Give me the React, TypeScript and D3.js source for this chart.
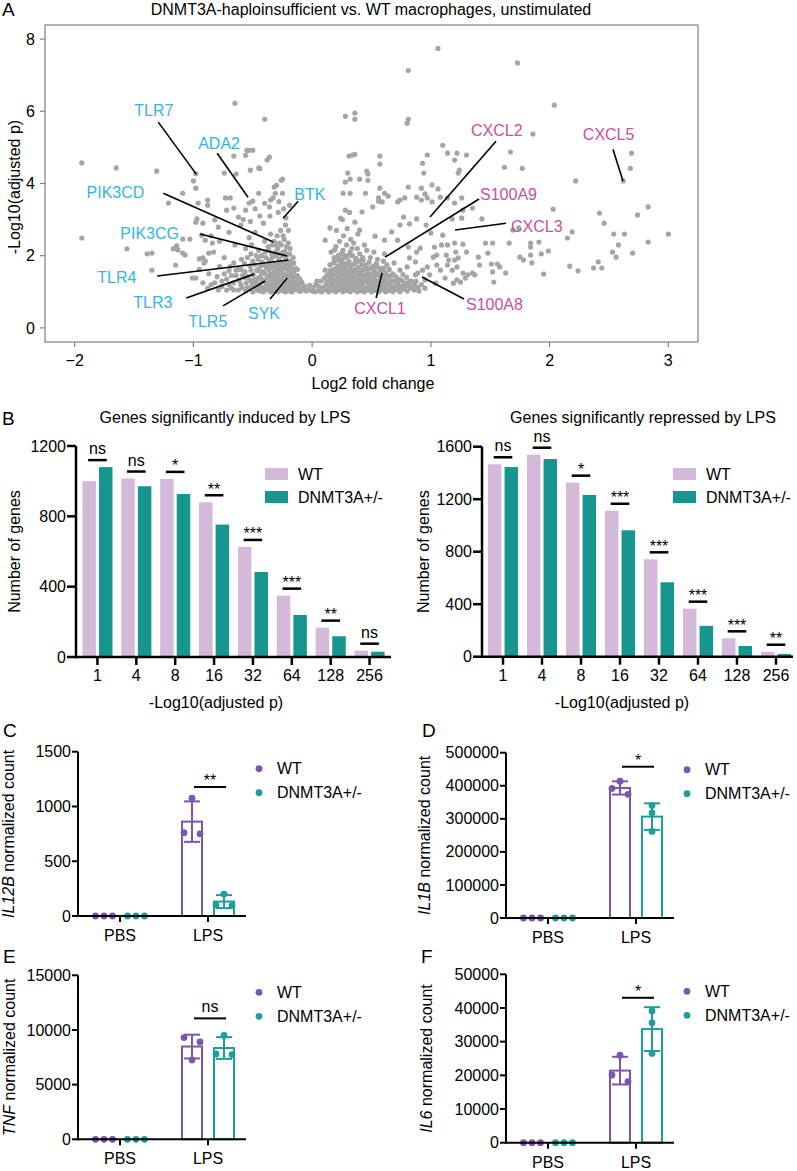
import React from 'react';
import * as d3 from 'd3';

const FONT = '"Liberation Sans", Arial, Helvetica, sans-serif';
const WT_BAR = '#d5b9da';
const DN_BAR = '#17958f';
const WT_DOT = '#7c55b1';
const DN_DOT = '#1c9f99';
const DOWN_LABEL = '#35b4e6';
const UP_LABEL = '#c64f9f';
const DOT_GRAY = '#a5a5a5';

// ---- Panel A: volcano (log2 fold change, -log10 adjusted p) ----
const volcanoSparse: [number, number][] = [
  [-1.94, 4.57], [-1.65, 4.43], [-1.31, 4.34], [-0.98, 4.27], [-0.65, 6.22], [-0.4, 5.78], [-0.66, 4.76],
  [-0.56, 4.78], [-0.55, 4.92], [-0.53, 4.92], [-0.5, 4.92], [-0.52, 4.37], [-0.44, 4.41], [-0.38, 4.65],
  [-0.36, 4.73], [-0.74, 4.29], [-0.25, 4.12], [0.28, 5.86], [0.36, 5.95], [0.36, 5.78], [0.31, 4.76],
  [0.34, 4.79], [0.36, 4.81], [0.3, 4.29], [0.47, 4.26], [0.57, 4.76], [0.57, 4.54], [1.06, 7.74],
  [0.81, 7.13], [1.73, 7.34], [2.04, 6.17], [0.81, 5.78], [0.8, 5.67], [1.86, 5.37], [1.1, 5.06],
  [0.97, 4.79], [1.14, 4.84], [1.22, 4.84], [1.3, 4.79], [1.2, 4.65], [0.93, 4.56], [1.24, 4.37],
  [1.23, 4.29], [0.94, 4.29], [1.67, 4.87], [1.62, 4.45], [1.77, 4.42], [2.69, 4.84], [2.68, 4.42],
  [2.22, 4.07], [2.62, 4.07], [2.83, 3.35], [2.74, 3.13], [2.42, 3.18], [2.46, 2.9], [2.03, 3.29],
  [3.0, 2.6], [2.83, 2.38], [2.54, 2.6], [2.63, 2.6], [2.58, 2.3], [2.53, 2.1], [2.56, 1.96], [2.7, 2.07],
  [2.37, 1.66], [2.41, 1.83], [2.44, 1.66], [2.17, 1.71], [2.24, 1.58], [2.19, 2.66], [2.15, 2.49],
  [1.91, 2.38], [1.84, 2.35], [1.84, 2.24], [1.99, 2.13], [1.93, 2.05], [1.75, 1.96], [1.78, 1.88],
  [1.84, 2.02], [1.85, 1.8], [1.95, 1.49], [1.69, 2.71], [1.74, 2.77], [1.66, 2.35], [1.46, 2.35],
  [1.52, 2.35], [1.48, 2.07], [1.4, 1.96], [1.51, 1.77], [1.56, 1.77], [1.58, 1.69], [1.52, 1.55],
  [1.53, 1.27], [1.63, 1.52], [1.43, 3.02], [1.35, 3.32], [1.27, 3.26], [1.26, 3.04], [1.18, 3.02],
  [1.2, 3.46], [1.14, 3.6], [1.26, 3.6],
  [-1.94, 2.49], [-1.56, 2.19], [-1.35, 1.6], [-1.39, 2.05], [-1.35, 2.07], [-1.09, 3.73], [-0.98, 3.87],
  [-1.21, 3.46], [-0.97, 3.02], [-0.98, 2.93], [-1.0, 4.07], [-1.17, 2.19], [-1.14, 2.27], [-1.01, 1.38],
  [-1.15, 1.74], [-0.87, 2.07], [-0.92, 1.94], [-0.91, 1.8], [-0.95, 1.91], [-1.09, 2.46], [-1.03, 2.46],
  [-1.15, 2.21], [-1.13, 2.16], [-1.09, 2.07], [-1.07, 2.02], [-0.96, 3.46], [-0.88, 3.54], [-0.88, 3.4],
  [-0.73, 3.6], [-0.69, 3.6], [-0.66, 3.32], [-0.72, 3.26], [-0.62, 3.07], [-0.56, 3.26], [-0.53, 3.46],
  [-0.5, 3.51], [-0.82, 2.99], [-0.79, 2.79], [-0.92, 2.9], [-0.93, 2.57], [-0.9, 2.43], [-0.84, 2.35],
  [-0.64, 4.26], [-0.45, 4.43], [-0.45, 3.73], [-0.35, 3.54], [-0.31, 3.73], [-0.26, 4.09], [-0.25, 3.73],
  [-0.32, 3.9], [-0.98, 1.38], [-0.95, 1.62], [-0.92, 1.25], [-0.9, 1.85], [-0.87, 1.5], [-0.85, 1.2],
  [-0.83, 2.1], [-0.8, 1.42], [-0.78, 1.7], [-0.76, 1.15], [-0.74, 1.95], [-0.72, 1.35], [-0.7, 1.58],
  [-0.68, 1.1], [-0.66, 1.8], [-0.65, 2.3], [-0.64, 1.45], [-0.85, 2.55], [-0.78, 2.4], [-0.7, 2.65],
  [-0.6, 2.85], [-0.58, 3.0], [-0.52, 2.95], [-0.48, 3.3], [-0.44, 3.1], [-0.4, 3.45], [-0.36, 3.35],
  [-0.33, 3.6], [-0.3, 3.95], [-0.28, 3.5], [-0.24, 3.3], [-0.22, 3.05], [-0.2, 2.7], [-0.19, 3.4],
  [0.46, 4.34], [0.47, 4.09], [0.4, 4.12], [0.32, 4.12], [0.28, 4.04], [0.26, 3.73], [0.32, 3.73],
  [0.45, 3.73], [0.56, 3.6], [0.56, 3.51], [0.59, 3.49], [0.51, 3.35], [0.57, 3.87], [0.61, 3.73],
  [0.64, 3.65], [0.72, 3.49], [0.74, 3.54], [0.78, 3.6], [0.81, 3.9], [0.92, 3.87], [0.95, 3.71],
  [0.88, 3.62], [0.92, 3.54], [0.74, 2.85], [0.82, 2.88], [0.77, 3.07], [0.8, 1.69], [0.82, 1.94],
  [0.87, 1.83], [0.88, 2.1], [0.91, 2.21], [0.81, 2.24], [0.87, 1.47], [0.89, 1.52], [0.93, 1.6],
  [0.97, 1.69], [1.03, 2.24], [1.02, 1.96], [1.05, 2.02], [1.13, 2.02], [1.15, 1.88], [1.2, 1.88],
  [1.23, 1.94], [1.1, 2.57], [1.09, 2.3], [1.14, 2.3], [1.2, 2.35], [1.21, 2.1], [1.27, 2.32], [1.3, 2.1],
  [0.88, 3.02], [0.96, 2.85], [1.0, 2.63], [1.01, 3.96], [1.06, 3.85], [1.08, 3.62], [0.97, 3.6],
  [1.01, 3.49], [1.05, 1.74], [1.14, 1.74], [1.18, 1.6], [1.22, 1.69], [1.27, 1.52], [1.31, 1.47],
  [1.35, 1.52], [1.37, 1.47], [1.22, 1.33], [1.25, 1.27], [1.29, 1.38], [1.19, 1.24], [1.08, 1.6],
  [0.99, 1.47], [1.12, 1.38], [0.95, 1.33], [1.04, 1.24], [1.41, 1.74], [0.72, 2.43], [0.67, 2.66],
  [0.61, 2.43], [0.53, 2.54], [0.4, 2.71], [0.36, 2.93], [0.24, 3.04], [0.15, 2.77], [0.11, 2.43],
  [0.19, 2.16], [0.28, 3.26], [0.42, 3.21],
];

const volcanoLeftCore: [number, number][] = [
  [-0.62, 1.05], [-0.615, 1.31], [-0.625, 1.62], [-0.59, 1.12], [-0.585, 1.46], [-0.595, 1.9],
  [-0.56, 1.02], [-0.555, 1.25], [-0.565, 1.55], [-0.56, 2.2], [-0.53, 1.08], [-0.535, 1.38],
  [-0.525, 1.72], [-0.53, 2.5], [-0.5, 1.0], [-0.505, 1.18], [-0.495, 1.48], [-0.5, 1.85], [-0.51, 2.3],
  [-0.47, 1.05], [-0.475, 1.28], [-0.465, 1.6], [-0.47, 2.0], [-0.48, 2.65], [-0.44, 1.02], [-0.445, 1.2],
  [-0.435, 1.42], [-0.44, 1.7], [-0.45, 2.15], [-0.41, 1.0], [-0.415, 1.12], [-0.405, 1.33], [-0.41, 1.55],
  [-0.42, 1.82], [-0.4, 2.4], [-0.41, 2.9], [-0.38, 1.05], [-0.385, 1.22], [-0.375, 1.4], [-0.38, 1.65],
  [-0.39, 1.95], [-0.37, 2.25], [-0.35, 1.0], [-0.355, 1.15], [-0.345, 1.3], [-0.35, 1.5], [-0.36, 1.75],
  [-0.34, 2.05], [-0.35, 2.6], [-0.355, 3.1], [-0.32, 1.03], [-0.325, 1.18], [-0.315, 1.35], [-0.32, 1.55],
  [-0.33, 1.8], [-0.31, 2.1], [-0.32, 2.4], [-0.29, 1.0], [-0.295, 1.12], [-0.285, 1.28], [-0.29, 1.45],
  [-0.3, 1.65], [-0.28, 1.9], [-0.29, 2.2], [-0.295, 2.55], [-0.285, 3.2], [-0.26, 1.04], [-0.265, 1.2],
  [-0.255, 1.36], [-0.26, 1.55], [-0.27, 1.75], [-0.25, 2.0], [-0.26, 2.3], [-0.265, 2.7], [-0.23, 1.0],
  [-0.235, 1.14], [-0.225, 1.3], [-0.23, 1.48], [-0.24, 1.68], [-0.22, 1.88], [-0.23, 2.12], [-0.235, 2.45],
  [-0.225, 2.85], [-0.2, 1.05], [-0.205, 1.2], [-0.195, 1.38], [-0.2, 1.58], [-0.21, 1.8], [-0.19, 2.05],
  [-0.2, 2.35], [-0.17, 1.0], [-0.175, 1.15], [-0.165, 1.32], [-0.17, 1.5], [-0.18, 1.72], [-0.16, 1.95],
  [-0.14, 1.06], [-0.145, 1.22], [-0.135, 1.42], [-0.14, 1.65], [-0.11, 1.02], [-0.115, 1.18],
  [-0.105, 1.36], [-0.08, 1.08], [-0.085, 1.25], [-0.05, 1.02],
  [-0.6, 1.2], [-0.57, 1.4], [-0.545, 1.12], [-0.515, 1.3], [-0.485, 1.15], [-0.455, 1.38], [-0.425, 1.1],
  [-0.425, 1.55], [-0.395, 1.28], [-0.395, 1.5], [-0.365, 1.08], [-0.365, 1.42], [-0.365, 1.62],
  [-0.335, 1.22], [-0.335, 1.42], [-0.335, 1.68], [-0.305, 1.06], [-0.305, 1.25], [-0.305, 1.52],
  [-0.305, 1.78], [-0.275, 1.14], [-0.275, 1.33], [-0.275, 1.62], [-0.275, 2.05], [-0.245, 1.08],
  [-0.245, 1.28], [-0.245, 1.45], [-0.245, 1.82], [-0.215, 1.12], [-0.215, 1.26], [-0.215, 1.45],
  [-0.215, 1.65], [-0.185, 1.1], [-0.185, 1.28], [-0.185, 1.45], [-0.185, 1.65], [-0.155, 1.1],
  [-0.155, 1.25], [-0.155, 1.4], [-0.125, 1.1], [-0.125, 1.28], [-0.095, 1.15],
  [-0.06, 1.15], [-0.03, 1.05], [-0.02, 1.18], [0.0, 1.02], [0.01, 1.12], [0.02, 1.0], [0.03, 1.2], [0.04, 1.3],
  [-0.6, 1.62], [-0.57, 1.78], [-0.545, 1.42], [-0.545, 1.95], [-0.515, 1.6], [-0.515, 2.05], [-0.485, 1.35],
  [-0.485, 1.75], [-0.455, 1.12], [-0.455, 1.58], [-0.455, 1.9], [-0.425, 1.3], [-0.425, 1.75], [-0.425, 2.0],
  [-0.395, 1.12], [-0.395, 1.72], [-0.395, 2.1], [-0.365, 1.25], [-0.365, 1.88], [-0.365, 2.15],
  [-0.335, 1.08], [-0.335, 1.95], [-0.335, 2.3], [-0.305, 1.38], [-0.305, 2.0], [-0.305, 2.3],
  [-0.275, 1.5], [-0.275, 1.82], [-0.275, 2.35], [-0.245, 1.62], [-0.245, 2.1], [-0.245, 2.55],
  [-0.215, 1.02], [-0.215, 1.78], [-0.215, 2.0], [-0.215, 2.25], [-0.185, 1.02], [-0.185, 1.85],
  [-0.185, 2.2], [-0.155, 1.55], [-0.155, 1.8], [-0.125, 1.45], [-0.125, 1.62], [-0.095, 1.3], [-0.095, 1.02],
  [-0.66, 1.25], [-0.68, 1.45], [-0.7, 1.2], [-0.72, 1.05], [-0.74, 1.5], [-0.76, 1.3], [-0.79, 1.05],
  [-0.82, 1.25], [-0.88, 1.1], [-0.64, 1.6], [-0.66, 1.05], [-0.69, 1.7],
];

const volcanoRightCore: [number, number][] = [
  [0.05, 1.02], [0.055, 1.15], [0.08, 1.0], [0.085, 1.12], [0.075, 1.3], [0.11, 1.05], [0.115, 1.2],
  [0.105, 1.38], [0.11, 1.6], [0.14, 1.0], [0.145, 1.14], [0.135, 1.3], [0.14, 1.5], [0.15, 1.75],
  [0.17, 1.04], [0.175, 1.2], [0.165, 1.36], [0.17, 1.55], [0.18, 1.8], [0.16, 2.1], [0.2, 1.0],
  [0.205, 1.12], [0.195, 1.28], [0.2, 1.45], [0.21, 1.65], [0.19, 1.9], [0.2, 2.25], [0.205, 2.7],
  [0.23, 1.05], [0.235, 1.2], [0.225, 1.36], [0.23, 1.55], [0.24, 1.75], [0.22, 2.0], [0.23, 2.4],
  [0.26, 1.0], [0.265, 1.14], [0.255, 1.3], [0.26, 1.48], [0.27, 1.68], [0.25, 1.9], [0.26, 2.15],
  [0.265, 2.55], [0.255, 3.0], [0.29, 1.04], [0.295, 1.18], [0.285, 1.35], [0.29, 1.52], [0.3, 1.72],
  [0.28, 1.95], [0.29, 2.3], [0.295, 2.75], [0.32, 1.0], [0.325, 1.12], [0.315, 1.28], [0.32, 1.45],
  [0.33, 1.62], [0.31, 1.85], [0.32, 2.1], [0.325, 2.45], [0.315, 3.2], [0.35, 1.05], [0.355, 1.2],
  [0.345, 1.38], [0.35, 1.56], [0.36, 1.78], [0.34, 2.0], [0.35, 2.35], [0.38, 1.0], [0.385, 1.15],
  [0.375, 1.3], [0.38, 1.48], [0.39, 1.68], [0.37, 1.92], [0.38, 2.2], [0.385, 2.6], [0.41, 1.03],
  [0.415, 1.18], [0.405, 1.35], [0.41, 1.52], [0.42, 1.75], [0.4, 2.05], [0.44, 1.0], [0.445, 1.12],
  [0.435, 1.28], [0.44, 1.45], [0.45, 1.65], [0.43, 1.88], [0.44, 2.3], [0.47, 1.05], [0.475, 1.2],
  [0.465, 1.38], [0.47, 1.58], [0.48, 1.82], [0.46, 2.15], [0.5, 1.0], [0.505, 1.14], [0.495, 1.3],
  [0.5, 1.48], [0.51, 1.7], [0.49, 1.95], [0.53, 1.04], [0.535, 1.18], [0.525, 1.35], [0.53, 1.55],
  [0.54, 1.78], [0.52, 2.1], [0.56, 1.0], [0.565, 1.12], [0.555, 1.28], [0.56, 1.46], [0.57, 1.65],
  [0.55, 1.9], [0.59, 1.05], [0.595, 1.2], [0.585, 1.38], [0.59, 1.6], [0.6, 1.85], [0.62, 1.0],
  [0.625, 1.15], [0.615, 1.32], [0.62, 1.52], [0.63, 1.75], [0.61, 2.05], [0.65, 1.04], [0.655, 1.2],
  [0.645, 1.4], [0.65, 1.62], [0.68, 1.0], [0.685, 1.14], [0.675, 1.3], [0.68, 1.5], [0.69, 1.8],
  [0.71, 1.06], [0.715, 1.22], [0.705, 1.42], [0.74, 1.0], [0.745, 1.15], [0.735, 1.35], [0.74, 1.6],
  [0.77, 1.08], [0.775, 1.25], [0.765, 1.48], [0.8, 1.02], [0.805, 1.18], [0.795, 1.4], [0.83, 1.1],
  [0.835, 1.3], [0.86, 1.05], [0.865, 1.22], [0.89, 1.12],
  [0.095, 1.1], [0.125, 1.12], [0.125, 1.28], [0.155, 1.1], [0.155, 1.26], [0.155, 1.42], [0.185, 1.1],
  [0.185, 1.28], [0.185, 1.45], [0.215, 1.08], [0.215, 1.22], [0.215, 1.38], [0.215, 1.55], [0.245, 1.1],
  [0.245, 1.28], [0.245, 1.45], [0.245, 1.62], [0.275, 1.08], [0.275, 1.25], [0.275, 1.42], [0.275, 1.6],
  [0.305, 1.1], [0.305, 1.22], [0.305, 1.38], [0.305, 1.58], [0.335, 1.06], [0.335, 1.25], [0.335, 1.4],
  [0.365, 1.1], [0.365, 1.28], [0.365, 1.45], [0.395, 1.08], [0.395, 1.25], [0.395, 1.4], [0.425, 1.1],
  [0.425, 1.25], [0.425, 1.42], [0.455, 1.08], [0.455, 1.3], [0.485, 1.12], [0.485, 1.28], [0.515, 1.08],
  [0.515, 1.25], [0.545, 1.1], [0.545, 1.3], [0.575, 1.08], [0.575, 1.25], [0.605, 1.1], [0.605, 1.28],
  [0.635, 1.08], [0.665, 1.1], [0.695, 1.12], [0.725, 1.1], [0.755, 1.15],
  [0.125, 1.45], [0.155, 1.6], [0.185, 1.62], [0.185, 1.95], [0.215, 1.72], [0.215, 1.88], [0.245, 1.8],
  [0.245, 2.05], [0.275, 1.78], [0.275, 2.0], [0.305, 1.75], [0.305, 2.0], [0.335, 1.55], [0.335, 1.75],
  [0.335, 2.2], [0.365, 1.62], [0.365, 1.85], [0.395, 1.55], [0.395, 1.85], [0.425, 1.6], [0.425, 1.95],
  [0.455, 1.48], [0.455, 1.75], [0.485, 1.45], [0.485, 1.65], [0.515, 1.42], [0.515, 1.62], [0.545, 1.48],
  [0.545, 1.7], [0.575, 1.42], [0.575, 1.58], [0.605, 1.45], [0.605, 1.65], [0.635, 1.25], [0.635, 1.45],
  [0.665, 1.28], [0.665, 1.45], [0.695, 1.3], [0.725, 1.28], [0.755, 1.32], [0.785, 1.15], [0.815, 1.28],
  [0.845, 1.15], [0.875, 1.3], [0.9, 1.02], [0.92, 1.2], [0.95, 1.1],
];

// gene annotations: text anchor (tx, ty) and leader line (x1,y1)->(x2,y2), all in data units
const volcanoLabels = [
  { gene: 'TLR7', up: false, tx: -1.498, ty: 6.03, x1: -1.296, y1: 5.7, x2: -0.976, y2: 4.26 },
  { gene: 'ADA2', up: false, tx: -0.96, ty: 5.12, x1: -0.8, y1: 4.84, x2: -0.54, y2: 3.62 },
  { gene: 'PIK3CD', up: false, tx: -1.9, ty: 3.76, x1: -1.254, y1: 3.73, x2: -0.328, y2: 2.38 },
  { gene: 'BTK', up: false, tx: -0.15, ty: 3.71, x1: -0.118, y1: 3.51, x2: -0.244, y2: 3.04 },
  { gene: 'PIK3CG', up: false, tx: -1.616, ty: 2.63, x1: -0.943, y1: 2.6, x2: -0.21, y2: 1.99 },
  { gene: 'TLR4', up: false, tx: -1.81, ty: 1.41, x1: -1.305, y1: 1.44, x2: -0.2, y2: 1.88 },
  { gene: 'TLR3', up: false, tx: -1.507, ty: 0.72, x1: -1.06, y1: 0.83, x2: -0.49, y2: 1.49 },
  { gene: 'TLR5', up: false, tx: -1.044, ty: 0.17, x1: -0.75, y1: 0.61, x2: -0.396, y2: 1.3 },
  { gene: 'SYK', up: false, tx: -0.54, ty: 0.39, x1: -0.354, y1: 0.8, x2: -0.21, y2: 1.38 },
  { gene: 'CXCL2', up: true, tx: 1.338, ty: 5.48, x1: 1.549, y1: 5.17, x2: 0.993, y2: 3.07 },
  { gene: 'CXCL5', up: true, tx: 2.28, ty: 5.37, x1: 2.534, y1: 4.95, x2: 2.618, y2: 4.07 },
  { gene: 'S100A9', up: true, tx: 1.414, ty: 3.71, x1: 1.406, y1: 3.57, x2: 0.614, y2: 1.96 },
  { gene: 'CXCL3', up: true, tx: 1.675, ty: 2.82, x1: 1.633, y1: 2.9, x2: 1.204, y2: 2.71 },
  { gene: 'CXCL1', up: true, tx: 0.354, ty: 0.53, x1: 0.539, y1: 0.83, x2: 0.589, y2: 1.52 },
  { gene: 'S100A8', up: true, tx: 1.296, ty: 0.66, x1: 1.279, y1: 0.8, x2: 0.926, y2: 1.41 },
];
const volcanoXTicks = [-2, -1, 0, 1, 2, 3];
const volcanoYTicks = [0, 2, 4, 6, 8];

// ---- Panel B: number of significant genes per cutoff ----
const pCutoffs = ['1', '4', '8', '16', '32', '64', '128', '256'];
const inducedWT = [1000, 1015, 1013, 880, 626, 349, 167, 36];
const inducedDN = [1080, 971, 927, 753, 484, 239, 118, 30];
const inducedSig = ['ns', 'ns', '*', '**', '***', '***', '**', 'ns'];
const repressedWT = [1466, 1539, 1326, 1112, 742, 366, 140, 38];
const repressedDN = [1445, 1506, 1232, 963, 567, 235, 82, 20];
const repressedSig = ['ns', 'ns', '*', '***', '***', '***', '***', '**'];

// ---- Panels C-F: normalized counts, 3 replicates per condition ----
const conditions = ['PBS', 'LPS'];
const il12bWT = [[0, 0, 0], [750, 1075, 760]];
const il12bDN = [[0, 0, 0], [100, 200, 95]];
const il1bWT = [[0, 0, 0], [374000, 414000, 392000]];
const il1bDN = [[0, 0, 0], [340000, 262000, 318000]];
const tnfWT = [[0, 0, 0], [9300, 7250, 8900]];
const tnfDN = [[0, 0, 0], [7800, 9500, 7750]];
const il6WT = [[0, 0, 0], [20100, 26000, 18100]];
const il6DN = [[0, 0, 0], [35600, 39100, 26500]];

const txt = { fontFamily: FONT, fontSize: 16, fill: '#000' } as const;

function Volcano() {
  const x = d3.scaleLinear().domain([-2.25, 3.25]).range([45, 698]);
  const y = d3.scaleLinear().domain([-0.39, 8.39]).range([342, 25]);
  const all = [...volcanoSparse, ...volcanoLeftCore, ...volcanoRightCore];
  return (
    <g>
      <text x={2} y={16} style={{ ...txt, fontSize: 19 }}>A</text>
      <text x={371} y={15} textAnchor="middle" style={txt}>
        DNMT3A-haploinsufficient vs. WT macrophages, unstimulated
      </text>
      {all.map((d, i) => (
        <circle key={i} cx={x(d[0])} cy={y(d[1])} r={2.6} fill={DOT_GRAY} />
      ))}
      <rect x={45} y={25} width={653} height={317} fill="none" stroke="#808080" strokeWidth={1.2} />
      {volcanoYTicks.map((t) => (
        <g key={t}>
          <line x1={40} x2={45} y1={y(t)} y2={y(t)} stroke="#808080" strokeWidth={1.2} />
          <text x={35} y={y(t)} dy="0.35em" textAnchor="end" style={txt}>{t}</text>
        </g>
      ))}
      {volcanoXTicks.map((t) => (
        <g key={t}>
          <line x1={x(t)} x2={x(t)} y1={342} y2={347} stroke="#808080" strokeWidth={1.2} />
          <text x={x(t)} y={366} textAnchor="middle" style={txt}>{t < 0 ? `\u2212${-t}` : t}</text>
        </g>
      ))}
      <text x={373} y={389} textAnchor="middle" style={txt}>Log2 fold change</text>
      <text transform="translate(20,187) rotate(-90)" textAnchor="middle" style={txt}>-Log10(adjusted p)</text>
      {volcanoLabels.map((l) => (
        <g key={l.gene}>
          <line x1={x(l.x1)} y1={y(l.y1)} x2={x(l.x2)} y2={y(l.y2)} stroke="#000" strokeWidth={1.6} />
          <text x={x(l.tx)} y={y(l.ty)} dy="0.35em" style={{ ...txt, fill: l.up ? UP_LABEL : DOWN_LABEL }}>
            {l.gene}
          </text>
        </g>
      ))}
    </g>
  );
}

function CountBars({ wt, dn, sig, max, ticks, axisX, axisEnd, y0, yTop, bandStart, bandEnd, title, titleX,
  xLabelX, yLabelX, legendX, letter }: any) {
  const y = d3.scaleLinear().domain([0, max]).range([y0, yTop]);
  const x = d3.scaleBand().domain(pCutoffs).range([bandStart, bandEnd]);
  const bw = 13.5;
  const off = 8.3;
  return (
    <g>
      {letter && <text x={2} y={425} style={{ ...txt, fontSize: 19 }}>{letter}</text>}
      <text x={titleX} y={423} textAnchor="middle" style={txt}>{title}</text>
      {pCutoffs.map((c, i) => {
        const cx = x(c)! + x.bandwidth() / 2;
        const top = y(Math.max(wt[i], dn[i])) - 7;
        return (
          <g key={c}>
            <rect x={cx - off - bw / 2} y={y(wt[i])} width={bw} height={y0 - y(wt[i])} fill={WT_BAR} />
            <rect x={cx + off - bw / 2} y={y(dn[i])} width={bw} height={y0 - y(dn[i])} fill={DN_BAR} />
            <line x1={cx - off - 1} x2={cx + off + 1} y1={top} y2={top} stroke="#000" strokeWidth={2.5} />
            <text x={cx} y={sig[i] === 'ns' ? top - 6 : top - 0.5} textAnchor="middle" style={txt}>{sig[i]}</text>
            <line x1={cx} x2={cx} y1={y0} y2={y0 + 8} stroke="#000" strokeWidth={2.5} />
            <text x={cx} y={y0 + 24} textAnchor="middle" style={txt}>{c}</text>
          </g>
        );
      })}
      <line x1={axisX} x2={axisX} y1={y0 + 1.25} y2={y(max)} stroke="#000" strokeWidth={2.5} />
      <line x1={axisX - 1.25} x2={axisEnd} y1={y0} y2={y0} stroke="#000" strokeWidth={2.5} />
      {ticks.map((t: number) => (
        <g key={t}>
          <line x1={axisX - 9} x2={axisX} y1={y(t)} y2={y(t)} stroke="#000" strokeWidth={2.5} />
          <text x={axisX - 10} y={y(t)} dy="0.35em" textAnchor="end" style={txt}>{t}</text>
        </g>
      ))}
      <text x={xLabelX} y={708} textAnchor="middle" style={txt}>-Log10(adjusted p)</text>
      <text transform={`translate(${yLabelX},${(y0 + y(max)) / 2}) rotate(-90)`} textAnchor="middle" style={txt}>
        Number of genes
      </text>
      <rect x={legendX} y={468} width={23} height={12} fill={WT_BAR} />
      <rect x={legendX} y={491} width={23} height={12} fill={DN_BAR} />
      <text x={legendX + 33} y={474} dy="0.35em" style={txt}>WT</text>
      <text x={legendX + 33} y={497} dy="0.35em" style={txt}>DNMT3A+/-</text>
    </g>
  );
}

// spread replicate dots horizontally when they overlap vertically
function spread(py: number[]): number[] {
  const idx = py.map((_, i) => i).sort((a, b) => py[a] - py[b]);
  const off = py.map(() => 0);
  let start = 0;
  for (let k = 1; k <= idx.length; k++) {
    if (k === idx.length || py[idx[k]] - py[idx[k - 1]] >= 7) {
      const cl = idx.slice(start, k);
      const step = cl.length === 2 ? 16 : 8.5;
      cl.forEach((id, j) => { off[id] = (j - (cl.length - 1) / 2) * step; });
      start = k;
    }
  }
  return off;
}

function DotBars({ gene, wt, dn, max, step, axisX, y0, yTop, yLabelX, sigY, sigText, letter, letterX, letterY }: any) {
  const y = d3.scaleLinear().domain([0, max]).range([y0, yTop]);
  const x = d3.scaleBand().domain(conditions).range([axisX - 2, axisX + 174]);
  const ticks = d3.range(0, max + step / 2, step);
  const groups = [
    { key: 'WT', vals: wt, color: WT_DOT, off: -16 },
    { key: 'DN', vals: dn, color: DN_DOT, off: 16 },
  ];
  const lpsC = x('LPS')! + x.bandwidth() / 2;
  const ys = y(sigY);
  return (
    <g>
      <text x={letterX} y={letterY} style={{ ...txt, fontSize: 19 }}>{letter}</text>
      {conditions.map((c, ci) => groups.map((g) => {
        const vals: number[] = g.vals[ci];
        const mean = d3.mean(vals)!;
        const sd = d3.deviation(vals) || 0;
        const cx = x(c)! + x.bandwidth() / 2 + g.off;
        const py = vals.map((v) => y(v));
        const jit = spread(py);
        return (
          <g key={c + g.key}>
            {mean > 0 && (
              <>
                <rect x={cx - 10} y={y(mean)} width={20} height={y0 - y(mean)} fill="#fff" stroke={g.color} strokeWidth={2} />
                <line x1={cx} x2={cx} y1={y(mean - sd)} y2={y(mean + sd)} stroke={g.color} strokeWidth={2} />
                <line x1={cx - 8} x2={cx + 8} y1={y(mean + sd)} y2={y(mean + sd)} stroke={g.color} strokeWidth={2} />
                <line x1={cx - 8} x2={cx + 8} y1={y(mean - sd)} y2={y(mean - sd)} stroke={g.color} strokeWidth={2} />
              </>
            )}
            {vals.map((v, i) => (
              <circle key={i} cx={cx + jit[i]} cy={py[i]} r={3.4} fill={g.color} />
            ))}
          </g>
        );
      }))}
      <line x1={axisX} x2={axisX} y1={y0 + 1} y2={y(max)} stroke="#000" strokeWidth={2} />
      <line x1={axisX - 1} x2={axisX + 168} y1={y0} y2={y0} stroke="#000" strokeWidth={2} />
      {ticks.map((t: number) => (
        <g key={t}>
          <line x1={axisX - 6} x2={axisX} y1={y(t)} y2={y(t)} stroke="#000" strokeWidth={2} />
          <text x={axisX - 7} y={y(t)} dy="0.35em" textAnchor="end" style={txt}>{t}</text>
        </g>
      ))}
      {conditions.map((c) => (
        <g key={c}>
          <line x1={x(c)! + x.bandwidth() / 2} x2={x(c)! + x.bandwidth() / 2} y1={y0} y2={y0 + 6} stroke="#000" strokeWidth={2} />
          <text x={x(c)! + x.bandwidth() / 2} y={y0 + 25} textAnchor="middle" style={txt}>{c}</text>
        </g>
      ))}
      <line x1={lpsC - 14} x2={lpsC + 18} y1={ys} y2={ys} stroke="#000" strokeWidth={2} />
      <text x={lpsC + 2} y={sigText === 'ns' ? ys - 6.5 : ys - 0.5} textAnchor="middle" style={txt}>{sigText}</text>
      <text transform={`translate(${yLabelX},${(y0 + y(max)) / 2}) rotate(-90)`} textAnchor="middle" style={txt}>
        <tspan fontStyle="italic">{gene}</tspan> normalized count
      </text>
      <circle cx={axisX + 181} cy={y(max) + 17} r={3.4} fill={WT_DOT} />
      <circle cx={axisX + 181} cy={y(max) + 41} r={3.4} fill={DN_DOT} />
      <text x={axisX + 199} y={y(max) + 17} dy="0.35em" style={txt}>WT</text>
      <text x={axisX + 199} y={y(max) + 41} dy="0.35em" style={txt}>DNMT3A+/-</text>
    </g>
  );
}

export default function App() {
  return (
    <svg width={797} height={1171} style={{ position: 'absolute', left: 0, top: 0, background: '#fff' }}>
      <rect width={797} height={1171} fill="#fff" />
      <Volcano />
      <CountBars wt={inducedWT} dn={inducedDN} sig={inducedSig} max={1200} ticks={[0, 400, 800, 1200]}
        axisX={76} axisEnd={391} y0={657} yTop={446} bandStart={78} bandEnd={389}
        title="Genes significantly induced by LPS" titleX={225} xLabelX={216} yLabelX={20} legendX={265} letter="B" />
      <CountBars wt={repressedWT} dn={repressedDN} sig={repressedSig} max={1600} ticks={[0, 400, 800, 1200, 1600]}
        axisX={482} axisEnd={793} y0={656.7} yTop={446.7} bandStart={483.5} bandEnd={795.5}
        title="Genes significantly repressed by LPS" titleX={643} xLabelX={622} yLabelX={429} legendX={673} />
      <DotBars gene="IL12B" wt={il12bWT} dn={il12bDN} max={1500} step={500} axisX={78} y0={916} yTop={751.7}
        yLabelX={14} sigY={1178} sigText="**" letter="C" letterX={3} letterY={737} />
      <DotBars gene="IL1B" wt={il1bWT} dn={il1bDN} max={500000} step={100000} axisX={506} y0={918} yTop={752.7}
        yLabelX={430} sigY={457600} sigText="*" letter="D" letterX={422} letterY={737} />
      <DotBars gene="TNF" wt={tnfWT} dn={tnfDN} max={15000} step={5000} axisX={78} y0={1139.3} yTop={975.3}
        yLabelX={15} sigY={11060} sigText="ns" letter="E" letterX={3} letterY={963} />
      <DotBars gene="IL6" wt={il6WT} dn={il6DN} max={50000} step={10000} axisX={506} y0={1142.7} yTop={974.3}
        yLabelX={432} sigY={43030} sigText="*" letter="F" letterX={421} letterY={963} />
    </svg>
  );
}
